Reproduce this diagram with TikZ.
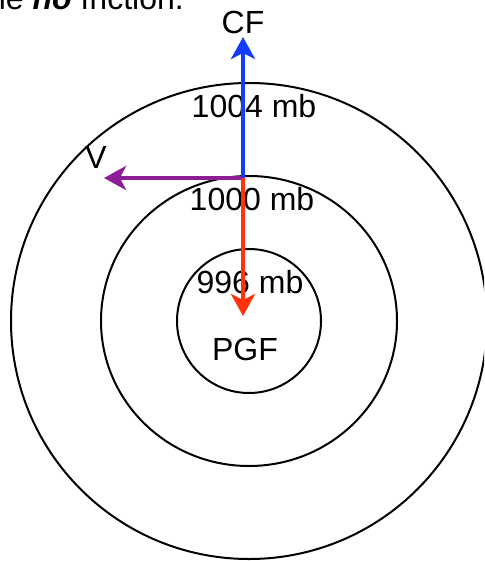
\documentclass[tikz,border=0pt]{standalone}
\usepackage{fontspec}
\setmainfont{Liberation Sans}
\usetikzlibrary{arrows.meta}
\definecolor{cfblue}{RGB}{20,60,255}
\definecolor{pgfred}{RGB}{255,50,10}
\definecolor{vpurple}{RGB}{140,30,150}
\begin{document}
\begin{tikzpicture}[x=1pt,y=-1pt,
  lbl/.style={inner sep=0pt,font=\fontsize{32}{38}\selectfont},
  ring/.style={draw=black,line width=2pt},
  force/.style={line width=4.5pt,-{Stealth[length=22pt,width=24pt,inset=6pt]}}]
\useasboundingbox (0,0) rectangle (484,561);
\clip (0,0) rectangle (484,561);
\coordinate (c) at (249,321);
\draw[ring] (c) circle[radius=72];
\draw[ring] (c) circle[x radius=148,y radius=145];
\draw[ring] (c) circle[x radius=238,y radius=238];
\node[lbl,anchor=base east] (top) at (184,10) {the \textbf{\textit{no}} friction.};
\node[lbl] (l1004) at (254,106) {1004 mb};
\node[lbl] (l1000) at (252,199) {1000 mb};
\node[lbl] (l996) at (250,282) {996 mb};
\node[lbl] (pgf) at (245,349) {PGF};
\node[lbl] (v) at (96,157) {V};
\node[lbl] (cf) at (243,22) {CF};
\coordinate (o) at (243,178);
\coordinate (cftip) at (243,37);
\coordinate (pgftip) at (243,316);
\coordinate (vtip) at (104,178);
\draw[force,draw=vpurple,fill=vpurple] (o) -- (vtip);
\draw[force,draw=cfblue,fill=cfblue] (o) -- (cftip);
\draw[force,draw=pgfred,fill=pgfred] (o) -- (pgftip);
\end{tikzpicture}
\end{document}
